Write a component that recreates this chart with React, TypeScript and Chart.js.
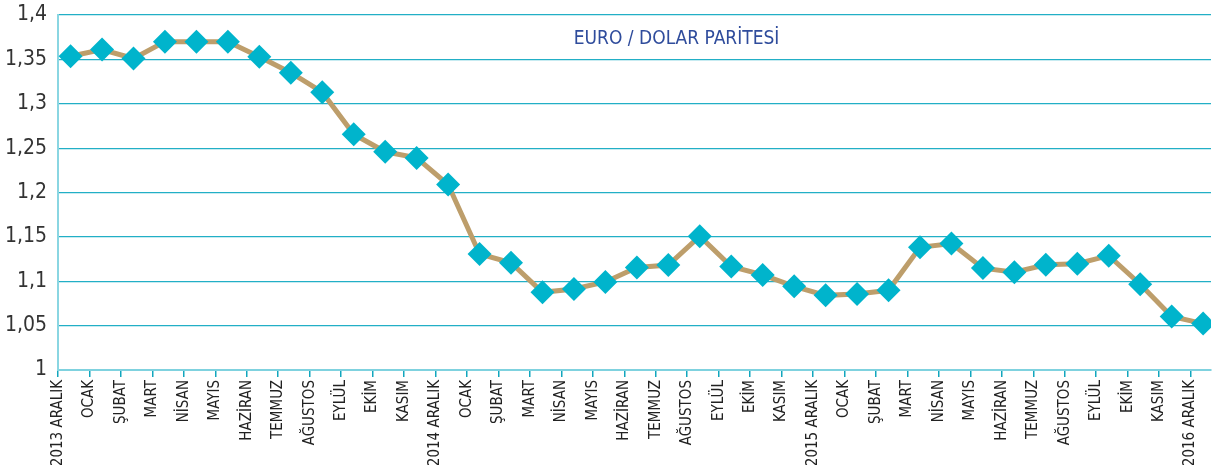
import React, { useEffect, useRef } from "react";
import { Chart, registerables } from "chart.js";

Chart.register(...registerables);

const TITLE = "EURO / DOLAR PARİTESİ";

const MONTH_LABELS: string[] = [
  "2013 ARALIK", "OCAK", "ŞUBAT", "MART", "NİSAN", "MAYIS", "HAZİRAN", "TEMMUZ", "AĞUSTOS", "EYLÜL", "EKİM", "KASIM",
  "2014 ARALIK", "OCAK", "ŞUBAT", "MART", "NİSAN", "MAYIS", "HAZİRAN", "TEMMUZ", "AĞUSTOS", "EYLÜL", "EKİM", "KASIM",
  "2015 ARALIK", "OCAK", "ŞUBAT", "MART", "NİSAN", "MAYIS", "HAZİRAN", "TEMMUZ", "AĞUSTOS", "EYLÜL", "EKİM", "KASIM",
  "2016 ARALIK",
];

const EUR_USD: number[] = [
  1.3536, 1.3611, 1.3510, 1.3700, 1.3700, 1.3700, 1.3530, 1.3350, 1.3130, 1.2656, 1.2459, 1.2390,
  1.2090, 1.1307, 1.1208, 1.0875, 1.0913, 1.0992, 1.1156, 1.1182, 1.1508, 1.1167, 1.1071, 1.0943,
  1.0841, 1.0856, 1.0898, 1.1383, 1.1424, 1.1148, 1.1102, 1.1185, 1.1197, 1.1288, 1.0966, 1.0603,
  1.0523,
];

const Y_MIN = 1;
const Y_MAX = 1.4;
const Y_STEP = 0.05;

const FONT = "'DejaVu Sans Condensed', 'DejaVu Sans', sans-serif";

const titlePlugin = {
  id: "innerTitle",
  afterDatasetsDraw(chart: any) {
    const { ctx, chartArea } = chart;
    ctx.save();
    ctx.font = `condensed 19px ${FONT}`;
    ctx.fillStyle = "#2f4c9c";
    ctx.textAlign = "center";
    ctx.textBaseline = "middle";
    const x = chartArea.left + (chartArea.right - chartArea.left) * 0.5365;
    ctx.fillText(TITLE, x, chartArea.top + 24);
    ctx.restore();
  },
};

export default function App() {
  const canvasRef = useRef<HTMLCanvasElement | null>(null);

  useEffect(() => {
    document.body.style.margin = "0";
    const canvas = canvasRef.current;
    if (!canvas) return;
    const chart = new Chart(canvas, {
      type: "line",
      data: {
        datasets: [
          {
            label: TITLE,
            data: EUR_USD.map((v, i) => ({ x: i, y: v })),
            borderColor: "#bd9e6b",
            borderWidth: 5,
            tension: 0,
            pointStyle: "rectRot",
            pointRadius: 12,
            pointHoverRadius: 12,
            pointBackgroundColor: "#00b4cc",
            pointBorderColor: "#00b4cc",
            pointBorderWidth: 0,
            fill: false,
          },
        ],
      },
      options: {
        animation: false,
        responsive: true,
        maintainAspectRatio: false,
        layout: { padding: { top: 15, right: 7, left: 0, bottom: 0 } },
        plugins: {
          legend: { display: false },
          tooltip: { enabled: false },
          title: { display: false },
        },
        scales: {
          x: {
            type: "linear",
            min: -0.4,
            max: 36.25,
            afterBuildTicks: (axis: any) => {
              axis.ticks = MONTH_LABELS.map((_, i) => ({ value: i - 0.4 }));
            },
            afterFit: (axis: any) => {
              axis.height = 95;
              axis.paddingLeft = 0;
              axis.paddingRight = 0;
            },
            ticks: {
              autoSkip: false,
              maxRotation: 90,
              minRotation: 90,
              padding: 3,
              color: "#222222",
              font: { family: FONT, size: 15, weight: "condensed" as any },
              callback: (_v: any, index: number) => MONTH_LABELS[index],
            },
            grid: {
              drawOnChartArea: false,
              drawTicks: true,
              tickLength: 7,
              color: "#12a6bd",
              lineWidth: 1.5,
            },
            border: { display: true, color: "#7fd2df", width: 2 },
          },
          y: {
            min: Y_MIN,
            max: Y_MAX,
            afterFit: (axis: any) => {
              axis.width = 58;
              axis.paddingTop = 0;
              axis.paddingBottom = 0;
            },
            ticks: {
              stepSize: Y_STEP,
              padding: 11,
              color: "#333333",
              font: { family: FONT, size: 21, weight: "condensed" as any },
              callback: (v: any) => Number(Number(v).toFixed(2)).toString().replace(".", ","),
            },
            grid: {
              drawTicks: false,
              color: "#22afc6",
              lineWidth: 1.2,
            },
            border: { display: true, color: "#8ad6e2", width: 2 },
          },
        },
      },
      plugins: [titlePlugin],
    });
    return () => chart.destroy();
  }, []);

  return (
    <div style={{ position: "absolute", left: 0, top: 0, width: 1223, height: 465, background: "#ffffff" }}>
      <canvas ref={canvasRef} />
    </div>
  );
}
